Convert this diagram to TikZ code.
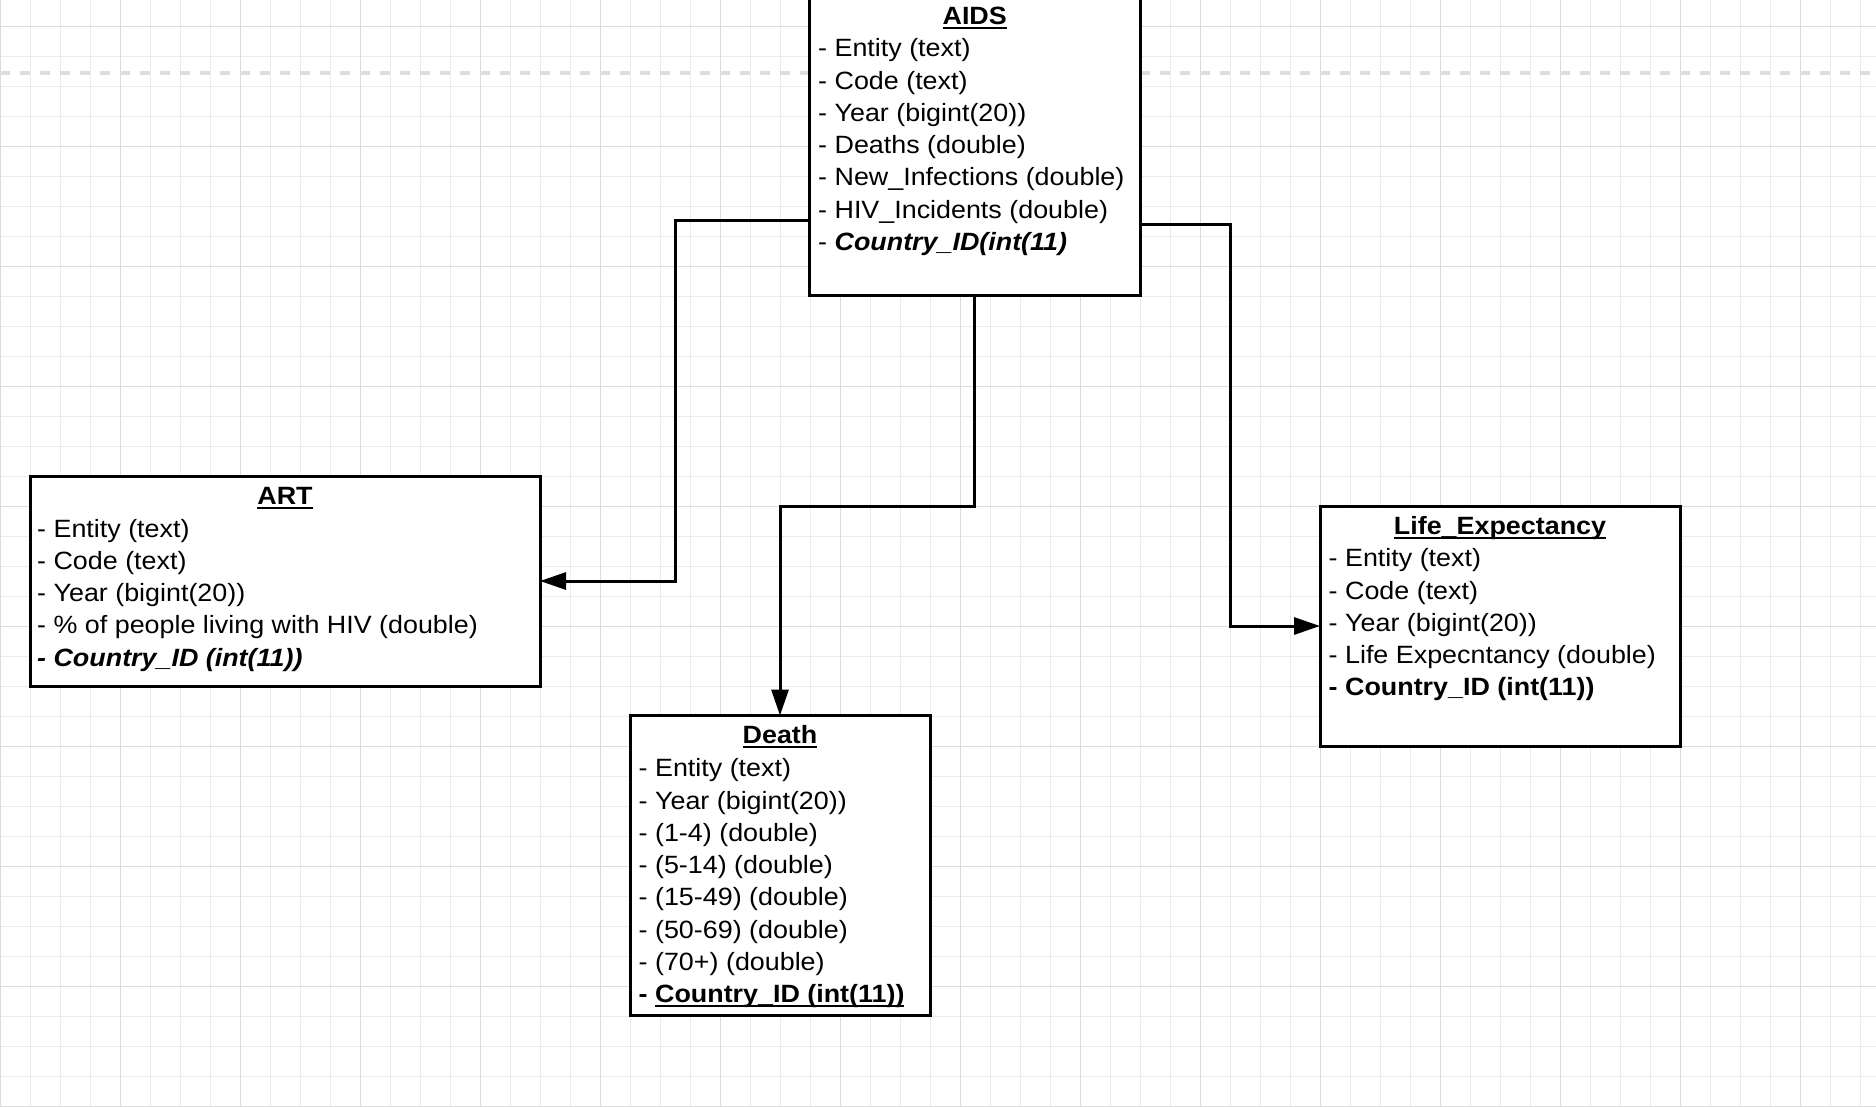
\documentclass[tikz,border=0pt]{standalone}
\usepackage{fontspec}
\setmainfont{Liberation Sans}[FakeStretch=1.075]
\usetikzlibrary{arrows.meta}
\definecolor{gminorc}{HTML}{EBEBEB}
\definecolor{gmajorc}{HTML}{DCDCDC}
\definecolor{dashc}{HTML}{DEDEDE}
\newcommand\myul[1]{\setbox0=\hbox{#1}\leavevmode\rlap{\rule[-4.3pt]{\wd0}{2pt}}\box0}
\begin{document}
\begin{tikzpicture}[x=1pt,y=-1pt,
  ebox/.style={draw=black, line width=3pt, fill=white, rectangle, inner sep=0pt, outer sep=0pt, anchor=north west},
  fld/.style={anchor=base west, inner sep=0pt, font=\fontsize{25pt}{32pt}\selectfont},
  ttl/.style={anchor=base, inner sep=0pt, font=\fontsize{25pt}{32pt}\selectfont\bfseries},
  conn/.style={draw=black, line width=3pt, -{Triangle[length=26pt,width=17pt]}},
  gminor/.style={draw=gminorc, line width=1pt},
  gmajor/.style={draw=gmajorc, line width=1pt},
]
\useasboundingbox (0,0) rectangle (1876,1106);
\fill[white] (0,0) rectangle (1876,1106);
\begin{scope}
\clip (0,0) rectangle (1876,1106);
\draw[gminor] \foreach \i in {0,...,62} {({30*\i},0) -- ({30*\i},1106)};
\draw[gminor] \foreach \j in {0,...,36} {(0,{26.3+30*\j}) -- (1876,{26.3+30*\j})};
\draw[gmajor] \foreach \i in {0,...,15} {({120*\i},0) -- ({120*\i},1106)};
\draw[gmajor] \foreach \j in {0,...,9} {(0,{26.3+120*\j}) -- (1876,{26.3+120*\j})};
\draw[draw=dashc, line width=4pt, dash pattern=on 10pt off 10pt] (0,73.3) -- (1876,73.3);
\end{scope}

% boxes
\node[ebox, minimum width=330.5pt, minimum height=300pt] (aids) at (809.5,-4.5) {};
\node[ebox, minimum width=510pt, minimum height=210pt] (art) at (30,476) {};
\node[ebox, minimum width=300pt, minimum height=300pt] (death) at (630,715.5) {};
\node[ebox, minimum width=360pt, minimum height=240pt] (life) at (1320,506) {};

% AIDS
\node[ttl] (aidsT) at (974.7,24.2) {\myul{AIDS}};
\node[fld] (aids1) at (818,56.7) {- Entity (text)};
\node[fld] (aids2) at (818,89.0) {- Code (text)};
\node[fld] (aids3) at (818,121.3) {- Year (bigint(20))};
\node[fld] (aids4) at (818,153.6) {- Deaths (double)};
\node[fld] (aids5) at (818,185.9) {- New\_Infections (double)};
\node[fld] (aids6) at (818,218.2) {- HIV\_Incidents (double)};
\node[fld] (aids7) at (818,250.5) {- {\bfseries\itshape Country\_ID(int(11)}};

% ART
\node[ttl] (artT) at (285,504.3) {\myul{ART}};
\node[fld] (art1) at (37,537.0) {- Entity (text)};
\node[fld] (art2) at (37,569.3) {- Code (text)};
\node[fld] (art3) at (37,601.6) {- Year (bigint(20))};
\node[fld] (art4) at (37,633.9) {- \% of people living with HIV (double)};
\node[fld] (art5) at (37,666.2) {\bfseries\itshape - Country\_ID (int(11))};

% Death
\node[ttl] (deathT) at (780,743.8) {\myul{Death}};
\node[fld] (death1) at (638.5,776.7) {- Entity (text)};
\node[fld] (death2) at (638.5,809.0) {- Year (bigint(20))};
\node[fld] (death3) at (638.5,841.3) {- (1-4) (double)};
\node[fld] (death4) at (638.5,873.6) {- (5-14) (double)};
\node[fld] (death5) at (638.5,905.9) {- (15-49) (double)};
\node[fld] (death6) at (638.5,938.2) {- (50-69) (double)};
\node[fld] (death7) at (638.5,970.5) {- (70+) (double)};
\node[fld] (death8) at (638.5,1002.8) {\bfseries - \myul{Country\_ID (int(11))}};

% Life Expectancy
\node[ttl] (lifeT) at (1500,534.3) {\myul{Life\_Expectancy}};
\node[fld] (life1) at (1328.5,566.7) {- Entity (text)};
\node[fld] (life2) at (1328.5,599.0) {- Code (text)};
\node[fld] (life3) at (1328.5,631.3) {- Year (bigint(20))};
\node[fld] (life4) at (1328.5,663.6) {- Life Expecntancy (double)};
\node[fld] (life5) at (1328.5,695.9) {\bfseries - Country\_ID (int(11))};

% connectors
\coordinate (y1) at (0,220);
\coordinate (j1) at (675,220);
\coordinate (j2) at (0,506);
\coordinate (y3) at (0,224);
\coordinate (j3) at (1230,224);
\draw[conn] (aids.west |- y1) -- (j1) |- (art.east);
\draw[conn] (aids.south) -- (aids.south |- j2) -| (death.north);
\draw[conn] (aids.east |- y3) -- (j3) |- (life.west);
\end{tikzpicture}
\end{document}
